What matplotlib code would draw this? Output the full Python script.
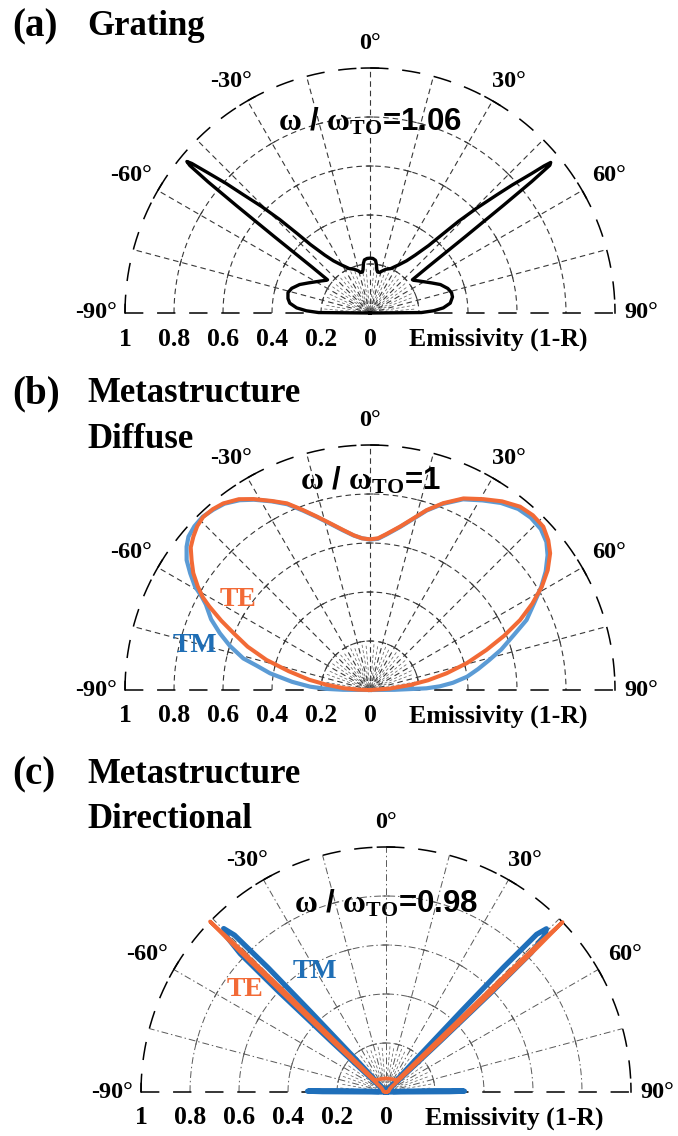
import numpy as np
import matplotlib
matplotlib.use("Agg")
import matplotlib.pyplot as plt

plt.rcParams['mathtext.fontset'] = 'custom'
plt.rcParams['mathtext.rm'] = 'Liberation Serif:bold'
plt.rcParams['mathtext.it'] = 'Liberation Serif:bold'
plt.rcParams['mathtext.bf'] = 'Liberation Serif:bold'

# ---------------- data (angle in degrees, emissivity) ----------------
grating_theta = [-90, -89.5, -88, -86, -83, -80, -76, -72.5, -68, -64, -60, -56, -53, -52,
                 -51.6, -51.4, -51.2, -51.0, -50.7, -50.4, -50.0, -49.2, -48, -47, -45.5,
                 -44, -42.5, -41, -38, -35, -31, -25, -20, -16, -13, -10.5, -9, -7.5, -6,
                 -3, 0, 3, 6, 7.5, 9, 10.5, 13, 16, 20, 25, 31, 35, 38, 41, 42.5, 44, 45.5,
                 47, 48, 49.2, 49.8, 50.2, 50.6, 50.9, 51.1, 51.3, 51.5, 51.9, 53, 56, 60,
                 64, 68, 72.5, 76, 79, 83, 86, 88, 89.5, 90]
grating_emis = [0.0, 0.21, 0.26, 0.30, 0.33, 0.34, 0.345, 0.335, 0.31, 0.28, 0.255, 0.235,
                0.222, 0.22, 0.30, 0.50, 0.70, 0.85, 0.95, 0.97, 0.95, 0.88, 0.79, 0.71, 0.62,
                0.53, 0.44, 0.37, 0.30, 0.26, 0.23, 0.20, 0.19, 0.18, 0.17, 0.17, 0.18, 0.205,
                0.218, 0.223, 0.224, 0.223, 0.216, 0.20, 0.178, 0.17, 0.17, 0.178, 0.19, 0.20,
                0.23, 0.26, 0.30, 0.365, 0.43, 0.52, 0.61, 0.705, 0.78, 0.87, 0.93, 0.96, 0.95,
                0.85, 0.70, 0.50, 0.30, 0.22, 0.222, 0.235, 0.255, 0.28, 0.31, 0.333, 0.343,
                0.343, 0.33, 0.30, 0.26, 0.21, 0.0]

diffuse_te_theta = [-90, -88, -86, -83, -80.5, -77, -73.8, -70.5, -67.5, -65, -62.5, -61, -59,
                    -56.5, -54, -51.5, -49, -46.5, -44, -41, -38.2, -34.5, -31.4, -27.5, -24,
                    -20.5, -17, -13, -9.5, -6, -3, 0, 3, 6, 10.4, 14, 17.5, 21.4, 26, 30.7, 35,
                    39.3, 43, 46.7, 50, 52.8, 56, 59, 62, 65, 68, 71, 74.5, 77.7, 80.5, 82.9,
                    86, 90]
diffuse_te = [0.0, 0.05, 0.11, 0.18, 0.25, 0.34, 0.44, 0.53, 0.60, 0.67, 0.74, 0.78, 0.82,
              0.865, 0.90, 0.935, 0.955, 0.972, 0.981, 0.978, 0.969, 0.945, 0.913, 0.87, 0.834,
              0.785, 0.74, 0.695, 0.662, 0.635, 0.62, 0.615, 0.62, 0.64, 0.678, 0.72, 0.77,
              0.819, 0.87, 0.906, 0.94, 0.967, 0.975, 0.972, 0.95, 0.923, 0.875, 0.818, 0.75,
              0.676, 0.59, 0.503, 0.41, 0.32, 0.24, 0.165, 0.08, 0.0]

diffuse_tm_theta = [-90, -89.5, -88.5, -86.8, -84, -80.5, -78, -76, -72.5, -69.3, -66, -62.5,
                    -61, -59.4, -57, -54.7, -52, -49.8, -47, -44, -41, -38, -34.5, -31.4, -27.5,
                    -24, -20.5, -17, -13, -9.5, -6, -3, 0, 3, 6, 10.4, 14, 17.5, 21.4, 26, 30.7,
                    35, 39.3, 43, 46.7, 50, 52.8, 56, 59, 62, 65.9, 69, 72.9, 76, 79, 82.2, 85,
                    87, 88.3, 89.5, 90]
diffuse_tm = [0.0, 0.11, 0.18, 0.245, 0.32, 0.414, 0.47, 0.533, 0.60, 0.655, 0.71, 0.755,
              0.785, 0.83, 0.875, 0.917, 0.95, 0.97, 0.98, 0.983, 0.975, 0.965, 0.94, 0.91,
              0.868, 0.83, 0.782, 0.738, 0.693, 0.66, 0.634, 0.62, 0.614, 0.618, 0.638, 0.676,
              0.718, 0.768, 0.816, 0.866, 0.90, 0.932, 0.955, 0.962, 0.958, 0.94, 0.91, 0.865,
              0.815, 0.76, 0.70, 0.63, 0.56, 0.50, 0.45, 0.40, 0.34, 0.285, 0.23, 0.10, 0.0]

directional_te_theta = [-90, -80, -60, -50, -47.0, -46.6, -46.3, -46.1, -45.9, -45.6, -45.3,
                        -45.0, -44.6, -44.0, -43, -38, -25, 0, 25, 38, 43, 44.2, 44.8, 45.2,
                        45.5, 45.8, 46.1, 46.35, 46.6, 46.9, 47.3, 50, 60, 80, 90]
directional_te = [0.0, 0.01, 0.015, 0.02, 0.03, 0.3, 0.6, 0.85, 1.0, 0.85, 0.6, 0.35, 0.18,
                  0.1, 0.07, 0.062, 0.058, 0.056, 0.058, 0.062, 0.07, 0.1, 0.18, 0.35, 0.6,
                  0.85, 1.0, 0.85, 0.6, 0.3, 0.03, 0.02, 0.015, 0.01, 0.0]

directional_tm_theta = [-90, -89.7, -89.4, -89.0, -88.5, -87.8, -86.5, -70, -50, -47.5, -47.2,
                        -46.9, -46.5, -45.7, -44.8, -44.0, -43.5, -43.2, -42.8, -42.2, -40, 0,
                        40, 42.0, 42.6, 43.0, 43.3, 43.7, 44.5, 45.4, 46.2, 46.6, 46.9, 47.2,
                        50, 70, 86.5, 87.8, 88.5, 89.0, 89.4, 89.7, 90]
directional_tm = [0.0, 0.26, 0.32, 0.30, 0.2, 0.08, 0.03, 0.02, 0.02, 0.03, 0.3, 0.6, 0.82,
                  0.91, 0.94, 0.89, 0.7, 0.45, 0.2, 0.05, 0.015, 0.01, 0.015, 0.05, 0.2, 0.45,
                  0.7, 0.89, 0.934, 0.91, 0.82, 0.6, 0.3, 0.03, 0.02, 0.02, 0.03, 0.08, 0.2,
                  0.30, 0.32, 0.26, 0.0]

angle_ticks = [-90, -60, -30, 0, 30, 60, 90]
angle_labels = ['-90°', '-60°', '-30°', '0°', '30°', '60°', '90°']
radial_values = [1, 0.8, 0.6, 0.4, 0.2, 0]
radial_labels = ['1', '0.8', '0.6', '0.4', '0.2', '0']
freq_labels = ['1.06', '1', '0.98']

# ---------------- layout ----------------
W, H = 678, 1136
R = 245
SERIF = 'Liberation Serif'
ORANGE = '#F26A36'
BLUE_LIGHT = '#5B9BD5'
BLUE = '#1F6FBA'
BLUE_TXT = '#1F6EB5'

fig = plt.figure(figsize=(W / 100, H / 100), dpi=100)


def d2r(a):
    return np.deg2rad(a)


def make_panel(cx, cy, grid_style, freq, freq_r):
    # square box; the half-disc sits in its middle half (matplotlib pads the wedge to square)
    ax = fig.add_axes([(cx - R) / W, (H - cy - R / 2) / H, 2 * R / W, 2 * R / H],
                      projection='polar')
    ax.set_theta_zero_location('N')
    ax.set_theta_direction(-1)
    ax.set_thetamin(-90)
    ax.set_thetamax(90)
    ax.set_ylim(0, 1)
    ax.set_axis_off()

    if grid_style == 'dash':
        gcol, glw, gls = '0.22', 0.8, (0, (5, 3.5))
    else:
        gcol, glw, gls = '0.35', 0.7, (0, (7, 3, 1.5, 3))
    okw = dict(color='k', lw=1.1, ls=(0, (12, 9)))

    t = d2r(np.linspace(-90, 90, 721))
    for rr in [0.2, 0.4, 0.6, 0.8]:
        ax.plot(t, np.full_like(t, rr), color=gcol, lw=glw, ls=gls, clip_on=False, zorder=1)
    ax.plot(t, np.ones_like(t), clip_on=False, zorder=1, **okw)
    # baseline
    ax.plot([d2r(-90), d2r(-90)], [1, 0], clip_on=False, zorder=1, **okw)
    ax.plot([d2r(90), d2r(90)], [0, 1], clip_on=False, zorder=1, **okw)
    # radial spokes
    for a in range(-75, 76, 15):
        ax.plot([d2r(a), d2r(a)], [0, 1], color=gcol, lw=glw, ls=gls, clip_on=False, zorder=1)
        for rr in [0.2, 0.4, 0.6, 0.8]:
            dd = np.rad2deg(3.0 / (R * rr))
            ts = d2r(np.linspace(a - dd, a + dd, 5))
            ax.plot(ts, np.full_like(ts, rr), color=gcol, lw=0.8, clip_on=False, zorder=1)
    # short fan near the origin
    for k, a in enumerate(range(-85, 86, 5)):
        if a % 15 != 0:
            ax.plot([d2r(a), d2r(a)], [0, 0.19], color='0.4', lw=0.55,
                    ls=(2.0 * (k % 3), (4, 3)), clip_on=False, zorder=1)
    # T ticks on outer ring
    for a in [-60, -30, 0, 30, 60]:
        ts = d2r(np.linspace(a - 2.0, a + 2.0, 9))
        ax.plot(ts, np.ones_like(ts), color='k', lw=1.1, clip_on=False, zorder=1)
    for a, b in [(-90, -88), (90, 88)]:
        ts = d2r(np.linspace(a, b, 5))
        ax.plot(ts, np.ones_like(ts), color='k', lw=1.1, clip_on=False, zorder=1)

    # angle labels
    tfont = dict(family=SERIF, weight='bold', size=17.5)
    pos = {-60: (-60, 1.125), -30: (-31, 1.10), 0: (0, 1.10), 30: (31, 1.10), 60: (60, 1.125)}
    for a, lab in zip(angle_ticks, angle_labels):
        if a in pos:
            th, rr = pos[a]
            ax.text(d2r(th), rr, lab, ha='center', va='center', clip_on=False, **tfont)
        elif a < 0:
            ax.text(d2r(a), 1.035, lab, ha='right', va='center', clip_on=False, **tfont)
        else:
            ax.text(d2r(a), 1.04, lab, ha='left', va='center', clip_on=False, **tfont)
    # radial tick labels
    for v, lab in zip(radial_values, radial_labels):
        ax.annotate(lab, xy=(d2r(-90), v), xytext=(0, -26), textcoords='offset pixels',
                    ha='center', va='center', annotation_clip=False,
                    family=SERIF, weight='bold', size=18.5)
    ax.annotate('Emissivity (1-R)', xy=(d2r(90), 0.16), xytext=(0, -26),
                textcoords='offset pixels', ha='left', va='center', annotation_clip=False,
                family=SERIF, weight='bold', size=18.5)
    # frequency label
    ax.text(0, freq_r, r'$\omega$ / $\omega_{\mathrm{TO}}$=' + freq, ha='center', va='center',
            family='Liberation Sans', weight='bold', size=22.5, clip_on=False, zorder=5)
    return ax


# ---- (a) Grating ----
axa = make_panel(370, 313, 'dash', freq_labels[0], 0.78)
axa.plot(d2r(np.array(grating_theta)), grating_emis, color='k', lw=2.4, clip_on=False, zorder=3)

# ---- (b) Diffuse ----
axb = make_panel(370, 690, 'dash', freq_labels[1], 0.855)
axb.plot(d2r(np.array(diffuse_tm_theta)), diffuse_tm, color=BLUE_LIGHT, lw=3.0, clip_on=False, zorder=3)
axb.plot(d2r(np.array(diffuse_te_theta)), diffuse_te, color=ORANGE, lw=2.9, clip_on=False, zorder=4)

# ---- (c) Directional ----
axc = make_panel(386, 1092, 'dashdot', freq_labels[2], 0.77)
axc.plot(d2r(np.array(directional_tm_theta)), directional_tm, color=BLUE, lw=3.8, clip_on=False, zorder=3)
axc.plot(d2r(np.array(directional_te_theta)), directional_te, color=ORANGE, lw=2.7, clip_on=False, zorder=4)

# TE / TM labels (figure pixel positions)
def ftext(x, y, s, **kw):
    fig.text(x / W, 1 - y / H, s, **kw)

lab = dict(family=SERIF, weight='bold', size=20, ha='center', va='center')
ftext(238, 600, 'TE', color=ORANGE, **lab)
ftext(195, 645, 'TM', color=BLUE_TXT, **lab)
ftext(245, 990, 'TE', color=ORANGE, **lab)
ftext(315, 972, 'TM', color=BLUE_TXT, **lab)

# panel titles
ptk = dict(family=SERIF, weight='bold', size=28, ha='left', va='baseline')
ttk = dict(family=SERIF, weight='bold', size=25, ha='left', va='baseline')
ftext(12, 36, '(a)', **ptk)
ftext(87, 35, 'Grating', **ttk)
ftext(12, 403, '(b)', **ptk)
ftext(87, 402, 'Metastructure', **ttk)
ftext(87, 448, 'Diffuse', **ttk)
ftext(12, 784, '(c)', **ptk)
ftext(87, 783, 'Metastructure', **ttk)
ftext(87, 828, 'Directional', **ttk)

fig.savefig('out.png', dpi=100)
